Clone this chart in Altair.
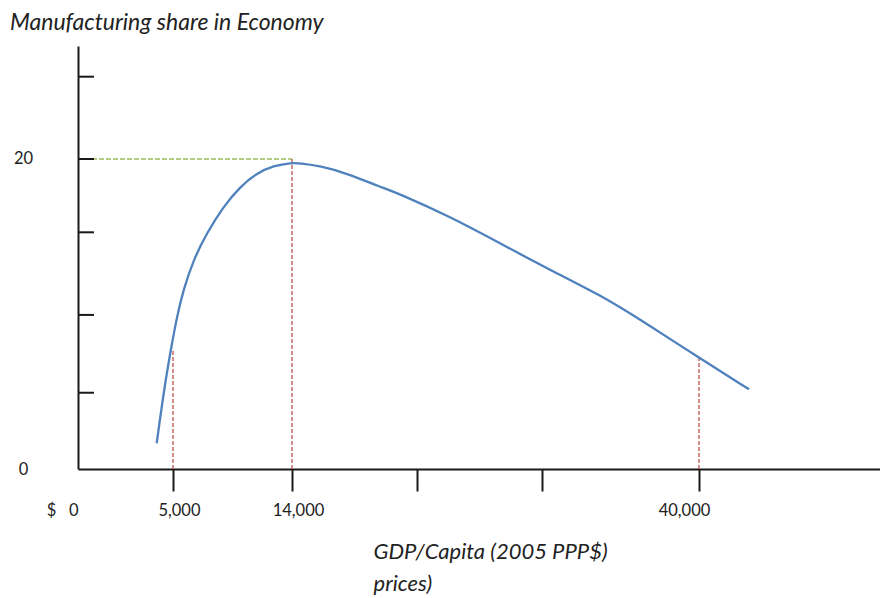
import altair as alt
import pandas as pd

# ---- data ----
gdp = [4140, 4580, 4930, 5280, 5780, 6540, 7550, 8800, 10070, 11330, 12590, 14000,
       14510, 15790, 17490, 19620, 20900, 24090, 27290, 30480, 33680, 36230,
       40060, 43180]
share = [1.66, 5.55, 7.99, 9.74, 11.55, 13.48, 15.21, 16.92, 18.21, 19.08, 19.57, 19.76,
         19.72, 19.55, 19.08, 18.21, 17.74, 16.28, 14.56, 12.84, 11.23, 9.65,
         7.14, 5.14]

marker_gdp = [5000, 14000, 40000]
marker_share = [7.68, 20, 7.16]

peak_gdp = [0, 14000]
peak_share = [20, 20]

x_tick_values = [0, 5000, 14000, 22000, 30000, 40000]
y_tick_values = [4.92, 9.94, 15.27, 20, 25.31]
y_label_values = [0, 20]

x_domain = [0, 5000, 14000, 40000, 51500]
y_domain = [0, 27.29]

FONT = "Lato"
TEXT = "#222222"
AXIS = "#1a1a1a"

curve_df = pd.DataFrame({"gdp": gdp, "share": share})
marker_df = pd.DataFrame({"gdp": marker_gdp, "share": marker_share, "base": [0] * len(marker_gdp)})
peak_df = pd.DataFrame({"gdp": peak_gdp, "share": peak_share})
ytick_df = pd.DataFrame({"share": y_tick_values})

x_scale = alt.Scale(domain=x_domain, range=[0, 95, 214, 621, 802], nice=False, zero=False)
y_scale = alt.Scale(domain=y_domain, nice=False, zero=True)

x_axis = alt.Axis(
    values=x_tick_values,
    grid=False,
    domainColor=AXIS, domainWidth=2,
    tickColor=AXIS, tickWidth=2, tickSize=22,
    tickOpacity=alt.condition("datum.value == 0", alt.value(0), alt.value(1)),
    labelExpr="datum.value == 0 ? '$\u00a0\u00a0\u00a00' : ((datum.value == 22000 || datum.value == 30000) ? '' : format(datum.value, ','))",
    labelAlign=alt.condition("datum.value == 0", alt.value("right"), alt.value("center")),
    labelOffset={
        "condition": [
            {"test": "datum.value == 0", "value": 0},
            {"test": "datum.value == 40000", "value": -15},
        ],
        "value": 6,
    },
    labelBaseline="alphabetic",
    labelPadding=24,
    labelFont=FONT, labelFontSize=16.5, labelColor=TEXT,
    labelFlush=False, labelOverlap=False,
    title=["GDP/Capita (2005 PPP$)", "prices)"],
    titleFont=FONT, titleFontSize=22, titleFontStyle="italic", titleFontWeight="normal",
    titleColor=TEXT, titleAlign="left", titleAnchor="start", titleBaseline="alphabetic",
    titleX=295, titleY=89, titleLineHeight=32, titleAngle=0,
)

y_axis = alt.Axis(
    values=y_label_values,
    grid=False,
    domainColor=AXIS, domainWidth=2,
    ticks=False, tickSize=0,
    labelAlign="center", labelBaseline="middle",
    labelPadding=55,
    labelFont=FONT, labelFontSize=16.5, labelColor=TEXT,
    labelFlush=False, labelOverlap=False,
    title=None,
)

X = alt.X("gdp:Q", scale=x_scale, axis=x_axis)

curve = alt.Chart(curve_df).mark_line(
    color="#4F81BD", strokeWidth=2.3, interpolate="basis"
).encode(
    x=X,
    y=alt.Y("share:Q", scale=y_scale, axis=y_axis),
)

markers = alt.Chart(marker_df).mark_rule(
    color="#C0504D", strokeWidth=1.3, strokeDash=[4, 2]
).encode(
    x=X,
    y=alt.Y("base:Q", scale=y_scale, axis=y_axis),
    y2="share:Q",
)

peak = alt.Chart(peak_df).mark_line(
    color="#9BBB59", strokeWidth=1.3, strokeDash=[5, 2]
).encode(
    x=X,
    y=alt.Y("share:Q", scale=y_scale, axis=y_axis),
)

yticks = alt.Chart(ytick_df).mark_rule(color=AXIS, strokeWidth=2).encode(
    y=alt.Y("share:Q", scale=y_scale, axis=y_axis),
    x=alt.value(0),
    x2=alt.value(16),
)

chart = alt.layer(peak, markers, curve, yticks).properties(
    width=802,
    height=423,
    autosize=alt.AutoSizeParams(type="none"),
    padding={"left": 78, "top": 46, "right": 0, "bottom": 129},
    view=alt.ViewBackground(stroke="transparent", strokeWidth=0),
    title=alt.TitleParams(
        text="Manufacturing share in Economy",
        anchor="start", frame="group", dx=-68, dy=22,
        font=FONT, fontSize=23, fontStyle="italic", fontWeight="normal",
        color=TEXT, baseline="alphabetic", offset=15,
    ),
).configure_view(strokeWidth=0, stroke="transparent").configure(background="white")

chart.save("out.html", embed_options={"renderer": "svg", "actions": False})
